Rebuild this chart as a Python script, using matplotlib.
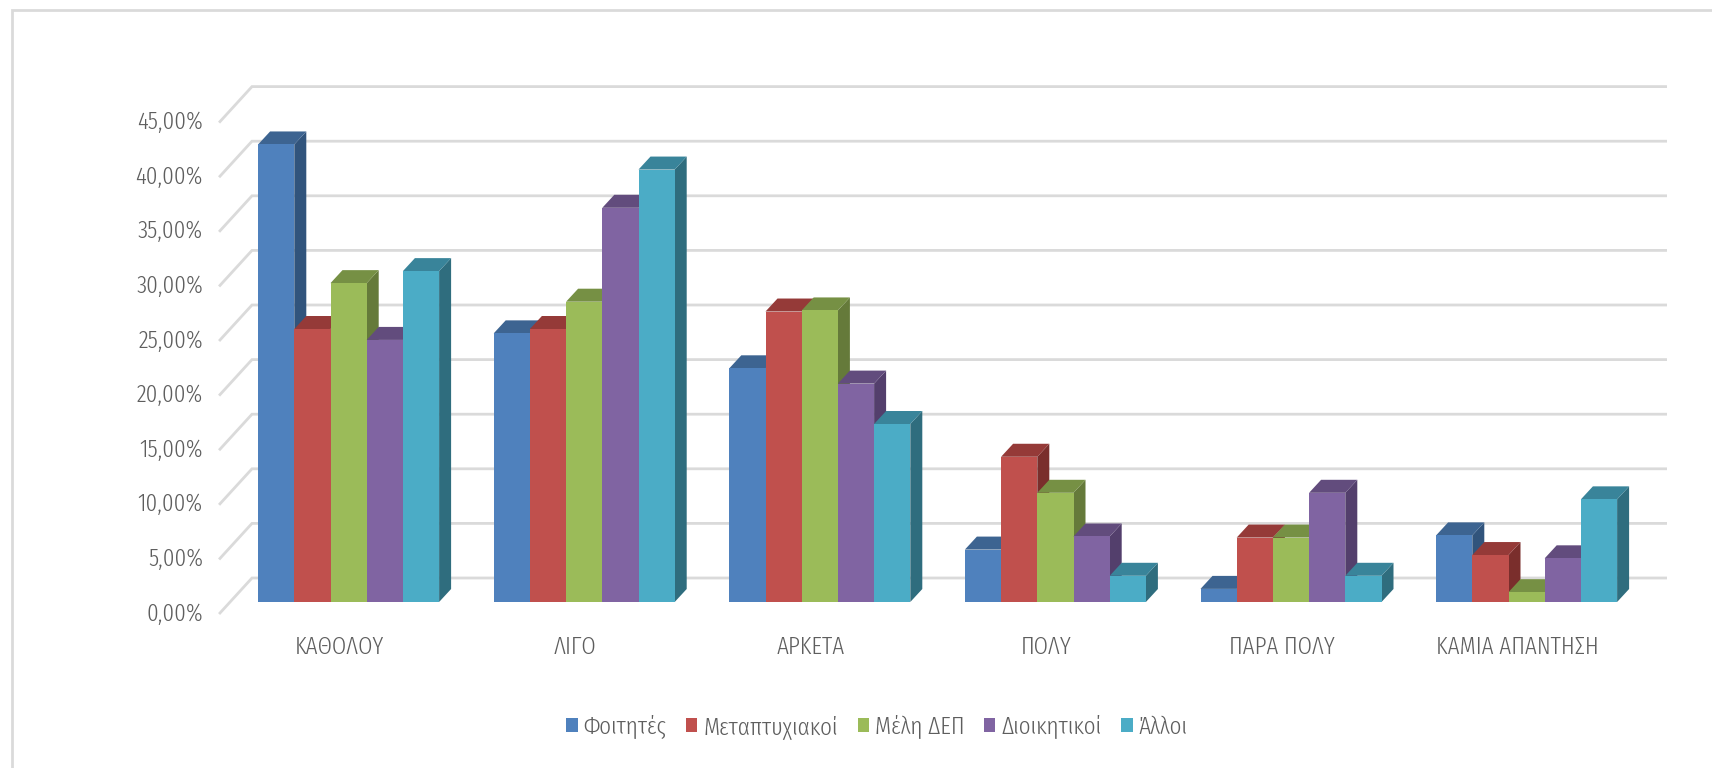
import matplotlib
matplotlib.use("Agg")
import matplotlib.pyplot as plt
from matplotlib.patches import Polygon, Patch
from matplotlib.lines import Line2D
from matplotlib.transforms import ScaledTranslation
import logging
logging.getLogger("matplotlib.font_manager").setLevel(logging.ERROR)

categories = ["ΚΑΘΟΛΟΥ", "ΛΙΓΟ", "ΑΡΚΕΤΑ", "ΠΟΛΥ", "ΠΑΡΑ ΠΟΛΥ", "ΚΑΜΙΑ ΑΠΑΝΤΗΣΗ"]
foitites = [41.9, 24.6, 21.4, 4.8, 1.2, 6.1]
metaptyxiakoi = [25.0, 25.0, 26.6, 13.3, 5.9, 4.3]
meli_dep = [29.2, 27.5, 26.7, 10.0, 5.9, 0.9]
dioikitikoi = [24.0, 36.1, 20.0, 6.0, 10.0, 4.0]
alloi = [30.3, 39.6, 16.3, 2.4, 2.4, 9.4]
series_names = ["Φοιτητές", "Μεταπτυχιακοί", "Μέλη ΔΕΠ", "Διοικητικοί", "Άλλοι"]
yticks = [0, 5, 10, 15, 20, 25, 30, 35, 40, 45]
ytick_labels = ["0,00%", "5,00%", "10,00%", "15,00%", "20,00%", "25,00%", "30,00%", "35,00%", "40,00%", "45,00%"]

series = [foitites, metaptyxiakoi, meli_dep, dioikitikoi, alloi]
front_cols = ["#4F81BD", "#C0504D", "#9BBB59", "#8064A2", "#4BACC6"]
top_cols = ["#3D6491", "#953A38", "#769044", "#624C7D", "#39849A"]
side_cols = ["#31547C", "#7A2E2C", "#657A3A", "#533F6C", "#2F6D7E"]
GRID = "#DADADA"
TXT = "#5E5E5E"

plt.rcParams["font.family"] = ["Fira Sans Extra Condensed", "Roboto Condensed", "Liberation Sans", "DejaVu Sans"]
plt.rcParams["font.weight"] = 300
FS = 18

W, H = 1712, 768
fig = plt.figure(figsize=(W / 100, H / 100), dpi=100, facecolor="white")
L, R, B, T = 230.8, 1644.4, 602.0, 110.6
ax = fig.add_axes([L / W, 1 - B / H, (R - L) / W, (B - T) / H])
ax.set_xlim(-0.5, 5.5)
ax.set_ylim(0, 45)
ax.patch.set_visible(False)
for s in ax.spines.values():
    s.set_visible(False)

ux = (R - L) / 6
uy = (B - T) / 45
px = lambda v: v / ux
py = lambda v: v / uy

# back wall and floor lines
f_dx, f_dy = px(-10.8), py(-11)
b_dx, b_dy = px(21.2), py(24)
for v in yticks:
    ax.plot([-0.5 + f_dx, -0.5 + b_dx, 5.5 + b_dx], [v + f_dy, v + b_dy, v + b_dy],
            color=GRID, lw=2.0, clip_on=False, zorder=1, solid_joinstyle="miter")

# bars
bw = px(36.2)
dx, dy = px(12), py(13)
for ci in range(len(categories)):
    for si, vals in enumerate(series):
        v = vals[ci]
        x0 = ci + (si - 2.5) * bw
        x1 = x0 + bw
        z = 3 + ci * 10 + si
        ax.add_patch(Polygon([(x1, 0), (x1 + dx, dy), (x1 + dx, v + dy), (x1, v)],
                             fc=side_cols[si], ec="none", clip_on=False, zorder=z))
        ax.add_patch(Polygon([(x0, v), (x0 + dx, v + dy), (x1 + dx, v + dy), (x1, v)],
                             fc=top_cols[si], ec="none", clip_on=False, zorder=z))
        ax.bar(x0, v, width=bw, align="edge", color=front_cols[si], clip_on=False, zorder=z + 0.5)

# axis ticks
ax.set_xticks(range(len(categories)), categories)
ax.set_yticks(yticks, ytick_labels)
ax.tick_params(axis="both", length=0, labelcolor=TXT)
ax.tick_params(axis="x", labelsize=FS, pad=24.5)
ax.tick_params(axis="y", labelsize=FS, pad=20)
for lab in ax.get_xticklabels():
    lab.set_transform(lab.get_transform() + ScaledTranslation(-9 / 100, 0, fig.dpi_scale_trans))
for lab in ax.get_yticklabels():
    lab.set_transform(lab.get_transform() + ScaledTranslation(0, -9.5 / 100, fig.dpi_scale_trans))

# legend
handles = [Patch(fc=c, ec="none") for c in front_cols]
fig.legend(handles, series_names, loc="center", bbox_to_anchor=(877 / W, 1 - 727 / H),
           ncol=5, frameon=False, fontsize=FS, labelcolor=TXT, handlelength=0.45, handleheight=0.45,
           handletextpad=0.25, columnspacing=0.78)

# outer frame
fig.add_artist(Line2D([12 / W, 12 / W, 1], [0, 1 - 10 / H, 1 - 10 / H], color=GRID, lw=2.0,
                      transform=fig.transFigure, solid_joinstyle="miter"))

fig.savefig("out.png", dpi=100)
